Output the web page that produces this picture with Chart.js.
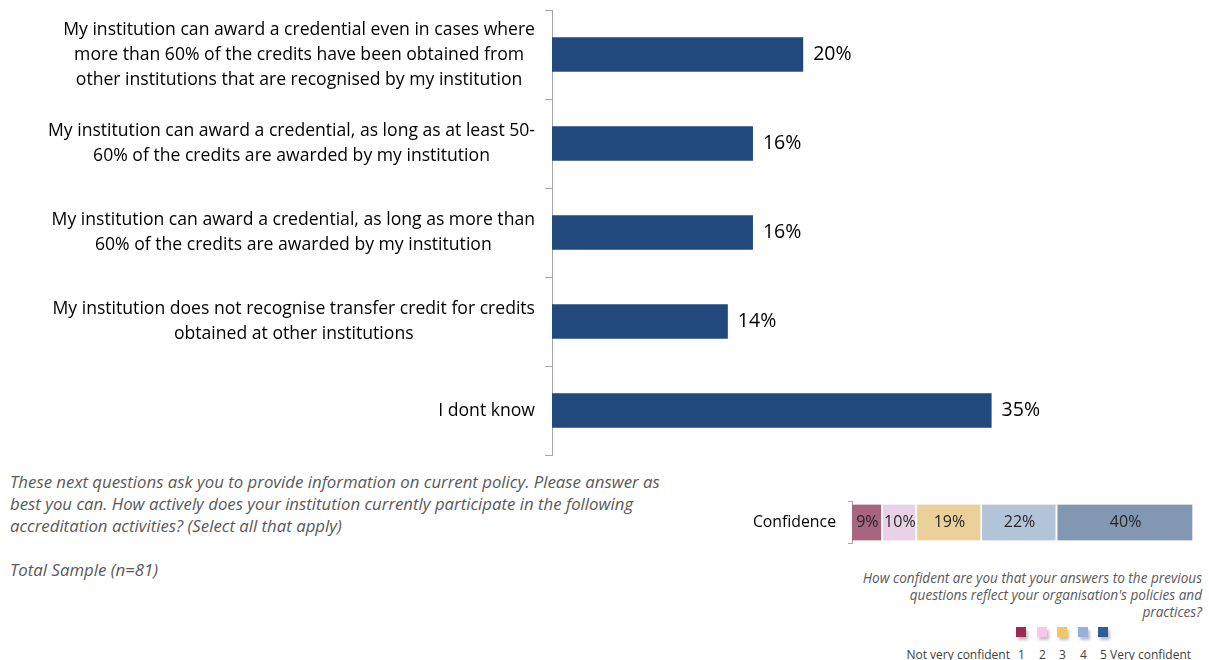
<!DOCTYPE html>
<html>
<head>
<meta charset="utf-8">
<script src="https://cdn.jsdelivr.net/npm/chart.js@4.4.1/dist/chart.umd.min.js"></script>
<style>
  body { margin: 0; background: #fff; width: 1209px; height: 660px; overflow: hidden; position: relative; font-family: "Open Sans", sans-serif; }
  #main { position: absolute; left: 0; top: 0; }
  #conf { position: absolute; left: 740px; top: 480px; }
  .note { position: absolute; left: 10px; top: 471px; font-style: italic; color: #595959; font-size: 16.8px; line-height: 22px; white-space: nowrap; }
  .total { position: absolute; left: 10px; top: 558px; font-style: italic; color: #595959; font-size: 16.8px; }
  .question { position: absolute; right: 7px; top: 569px; text-align: right; font-style: italic; color: #595959; font-size: 13.6px; line-height: 17px; white-space: nowrap; }
  .legend { position: absolute; top: 627px; left: 900px; width: 300px; height: 40px; font-size: 12px; color: #404040; }
  .sq { position: absolute; top: 0; width: 10px; height: 10px; box-shadow: 2px 3px 3px rgba(0,0,0,0.25); }
  .lt { position: absolute; top: 19px; white-space: nowrap; }
</style>
</head>
<body>
<canvas id="main" width="1209" height="465"></canvas>
<canvas id="conf" width="469" height="85"></canvas>

<div class="note">These next questions ask you to provide information on current policy. Please answer as<br>best you can. How actively does your institution currently participate in the following<br>accreditation activities? (Select all that apply)</div>
<div class="total">Total Sample (n=81)</div>
<div class="question">How confident are you that your answers to the previous<br>questions reflect your organisation's policies and<br>practices?</div>
<div class="legend" id="legend"></div>

<script>
// main chart data
const answerLabels = [
  ["My institution can award a credential even in cases where", "more than 60% of the credits have been obtained from", "other institutions that are recognised by my institution"],
  ["My institution can award a credential, as long as at least 50-", "60% of the credits are awarded by my institution"],
  ["My institution can award a credential, as long as more than", "60% of the credits are awarded by my institution"],
  ["My institution does not recognise transfer credit for credits", "obtained at other institutions"],
  ["I dont know"]
];
const answerValues = [20, 16, 16, 14, 35];

// confidence bar data
const confLevels = ["1", "2", "3", "4", "5"];
const confValues = [9, 10, 19, 22, 40];
const confColors = ['#a8657f', '#e9d2e6', '#ebd09a', '#b3c3d8', '#8297b2'];
const legendColors = ['#9c2a55', '#f8c8ea', '#f7c663', '#93b1dc', '#2f5d98'];

const fontFam = '"Open Sans", sans-serif';

// Excel style category labels: block right aligned, lines centered inside the block
const labelPlugin = {
  id: 'blockLabels',
  afterDraw(chart) {
    const ctx = chart.ctx;
    const yScale = chart.scales.y;
    ctx.save();
    ctx.font = '17.6px ' + fontFam;
    ctx.fillStyle = '#000';
    ctx.textAlign = 'center';
    ctx.textBaseline = 'middle';
    const right = yScale.right - 17;
    const lh = 25;
    answerLabels.forEach((lines, i) => {
      const cy = yScale.getPixelForValue(i);
      const w = Math.max(...lines.map(l => ctx.measureText(l).width));
      const cx = right - w / 2;
      const top = cy - (lines.length - 1) * lh / 2;
      lines.forEach((l, j) => ctx.fillText(l, cx, top + j * lh));
    });
    // value labels
    ctx.font = '19.5px ' + fontFam;
    ctx.textAlign = 'left';
    const meta = chart.getDatasetMeta(0);
    meta.data.forEach((bar, i) => {
      ctx.fillText(answerValues[i] + '%', bar.x + 10, bar.y);
    });
    ctx.restore();
  }
};

new Chart(document.getElementById('main'), {
  type: 'bar',
  data: {
    labels: answerLabels.map(l => l.join(' ')),
    datasets: [{
      data: answerValues,
      backgroundColor: '#21497c',
      categoryPercentage: 1,
      barPercentage: 0.39
    }]
  },
  options: {
    indexAxis: 'y',
    responsive: false,
    animation: false,
    layout: { padding: { left: 542, top: 10, bottom: 10, right: 29 } },
    plugins: { legend: { display: false }, tooltip: { enabled: false } },
    scales: {
      x: { display: false, min: 0, max: 50 },
      y: {
        afterFit(scale) { scale.width = 10; },
        ticks: { display: false },
        border: { color: '#a6a6a6', width: 1 },
        grid: { offset: true, drawOnChartArea: false, drawTicks: true, tickLength: 7, color: '#a6a6a6' }
      }
    }
  },
  plugins: [labelPlugin]
});

const segLabelPlugin = {
  id: 'segLabels',
  afterDraw(chart) {
    const ctx = chart.ctx;
    ctx.save();
    ctx.font = '16px ' + fontFam;
    ctx.fillStyle = '#262626';
    ctx.textAlign = 'center';
    ctx.textBaseline = 'middle';
    chart.data.datasets.forEach((ds, i) => {
      const bar = chart.getDatasetMeta(i).data[0];
      ctx.fillText(ds.data[0] + '%', (bar.x + bar.base) / 2, bar.y);
    });
    ctx.restore();
  }
};

new Chart(document.getElementById('conf'), {
  type: 'bar',
  data: {
    labels: ['Confidence'],
    datasets: confLevels.map((lv, i) => ({
      label: lv,
      data: [confValues[i]],
      backgroundColor: confColors[i],
      borderColor: '#ffffff',
      borderWidth: { right: 2 },
      borderSkipped: false,
      barThickness: 36
    }))
  },
  options: {
    indexAxis: 'y',
    responsive: false,
    animation: false,
    layout: { padding: { left: 0, top: 9, bottom: 9, right: 15 } },
    plugins: { legend: { display: false }, tooltip: { enabled: false } },
    scales: {
      x: { display: false, stacked: true, min: 0, max: 100 },
      y: {
        stacked: true,
        afterFit(scale) { scale.width = 112; },
        ticks: { color: '#000', font: { size: 15.8, family: fontFam }, padding: 12 },
        border: { color: '#a6a6a6', width: 1 },
        grid: { offset: true, drawOnChartArea: false, tickLength: 4, color: '#a6a6a6' }
      }
    }
  },
  plugins: [segLabelPlugin]
});

// legend below the confidence bar
const legend = document.getElementById('legend');
const sqLeft = [116, 137, 157, 178, 198];
legendColors.forEach((c, i) => {
  const s = document.createElement('div');
  s.className = 'sq';
  s.style.left = sqLeft[i] + 'px';
  s.style.background = c;
  legend.appendChild(s);
  const t = document.createElement('div');
  t.className = 'lt';
  t.style.left = (sqLeft[i] + 2) + 'px';
  t.textContent = confLevels[i];
  legend.appendChild(t);
});
const lo = document.createElement('div');
lo.className = 'lt';
lo.style.right = (300 - 110) + 'px';
lo.textContent = 'Not very confident';
legend.appendChild(lo);
const hi = document.createElement('div');
hi.className = 'lt';
hi.style.left = '210px';
hi.textContent = 'Very confident';
legend.appendChild(hi);
</script>
</body>
</html>
